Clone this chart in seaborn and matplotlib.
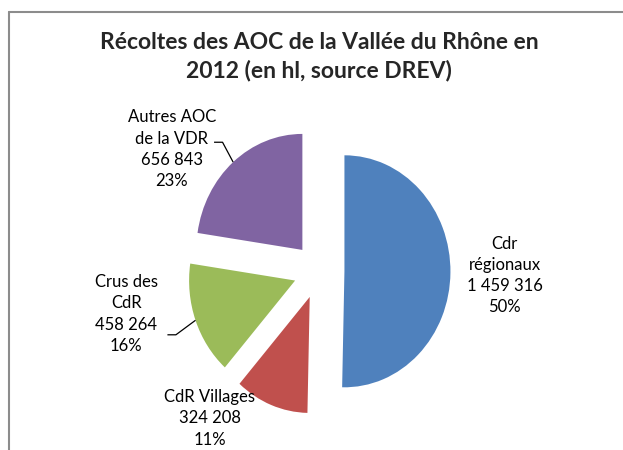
import matplotlib
matplotlib.use("Agg")
import matplotlib.pyplot as plt
from matplotlib.lines import Line2D
import numpy as np
import seaborn as sns

# Data (hl, 2012)
labels = ["Cdr\nrégionaux", "CdR Villages", "Crus des\nCdR", "Autres AOC\nde la VDR"]
volumes = [1459316, 324208, 458264, 656843]
colors = ["#4F81BD", "#C0504D", "#9BBB59", "#8064A2"]

sns.set_style("white")
plt.rcParams['font.family'] = ['Lato', 'DejaVu Sans']

fig = plt.figure(figsize=(6.23, 4.5), dpi=100)
ax = fig.add_axes([0, 0, 1, 1])

wedges, _ = ax.pie(volumes, colors=colors, startangle=90, counterclock=False,
                   explode=[0.24] * len(volumes), radius=1.0,
                   wedgeprops=dict(linewidth=0))

# pie is slightly taller than wide in the original
ax.set_aspect('auto')
ax.set_xlim(-319 / 106, (623 - 319) / 106)
ax.set_ylim(-179 / 116, (450 - 179) / 116)
ax.axis('off')

total = sum(volumes)
texts = []
for lab, v in zip(labels, volumes):
    texts.append("%s\n%s\n%d%%" % (lab, format(v, ",").replace(",", " "), round(100 * v / total)))

# label positions (data coords) and leader line starts
label_pos = [(1.75, -0.04), (-1.03, -1.27), (-1.82, -0.37), (-1.39, 1.05)]
leader_start = [None, None, (-1.43, -0.55), (-0.99, 1.11)]

for w, txt, pos, ls in zip(wedges, texts, label_pos, leader_start):
    ax.text(pos[0], pos[1], txt, ha='center', va='center', fontsize=12,
            linespacing=1.4, color='black')
    if ls is not None:
        mid = np.deg2rad((w.theta1 + w.theta2) / 2)
        cx, cy = w.center
        px, py = cx + w.r * np.cos(mid), cy + w.r * np.sin(mid)
        ax.plot([ls[0], ls[0] + 0.08, px], [ls[1], ls[1], py],
                color='black', lw=0.9, solid_capstyle='butt')

fig.text(0.512, 0.874, "Récoltes des AOC de la Vallée du Rhône en\n2012 (en hl, source DREV)",
         ha='center', va='center', fontsize=16.5, fontweight='bold', linespacing=1.4)

# chart area frame (partially cropped in the original)
fig.add_artist(Line2D([9 / 623, 9 / 623], [0, 1 - 12 / 450], color='#8c8c8c', lw=1.5))
fig.add_artist(Line2D([9 / 623, 1], [1 - 12 / 450, 1 - 12 / 450], color='#8c8c8c', lw=1.5))

plt.savefig("out.png", dpi=100, facecolor='white')
